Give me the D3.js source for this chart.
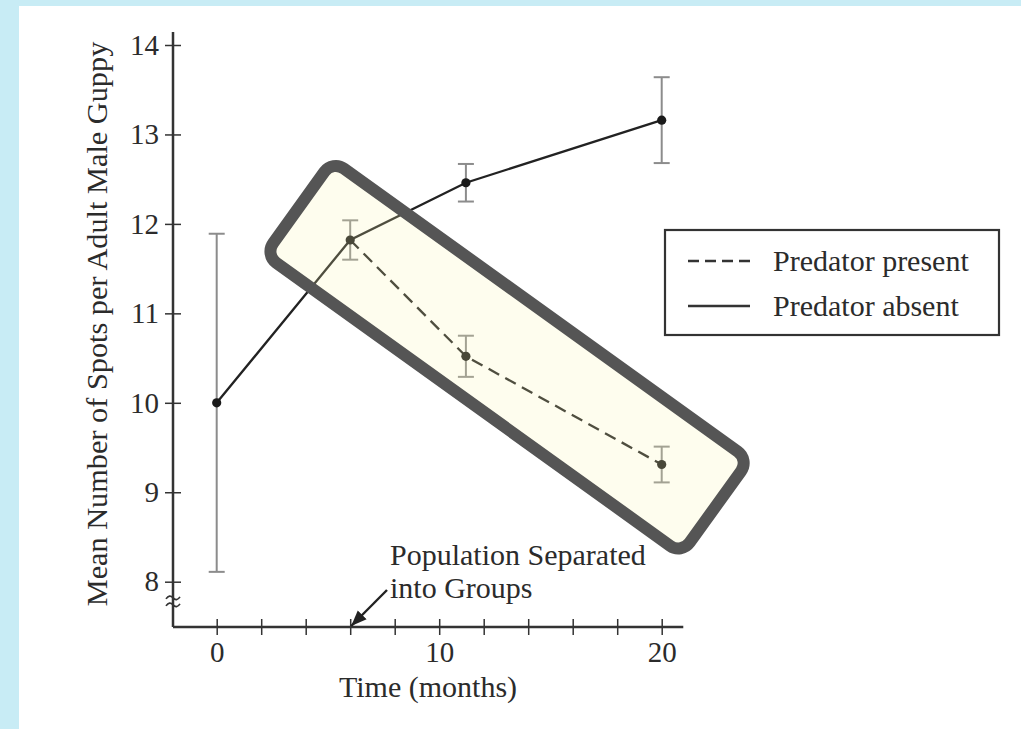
<html>
<head>
    <script src="https://d3js.org/d3.v7.min.js"></script>
    <style>
        body { margin: 0; }
        text { font-family: "Liberation Serif", "Times New Roman", serif; fill: #2b2b2b; }
    </style>
</head>
<body>
<div id="chart"></div>
<script>
    // values
    const absentMonths = [0, 6, 11.2, 20];
    const absentSpots = [10.0, 11.82, 12.46, 13.16];
    const absentErr = [1.89, 0.22, 0.21, 0.48];

    const presentMonths = [6, 11.2, 20];
    const presentSpots = [11.82, 10.52, 9.31];
    const presentErr = [0.22, 0.23, 0.2];

    const xTicks = [0, 2, 4, 6, 8, 10, 12, 14, 16, 18, 20];
    const xLabels = [0, 10, 20];
    const yTicks = [8, 9, 10, 11, 12, 13, 14];
    const legendNames = ["Predator present", "Predator absent"];
    const separatedAt = 6;

    const absent = absentMonths.map((m, i) => ({ m: m, v: absentSpots[i], e: absentErr[i] }));
    const present = presentMonths.map((m, i) => ({ m: m, v: presentSpots[i], e: presentErr[i] }));

    const svg = d3.select("#chart")
        .append("svg")
        .attr("width", 1021)
        .attr("height", 729);

    // page background
    svg.append("rect").attr("width", 1021).attr("height", 729).attr("fill", "#c8ecf5");
    svg.append("rect").attr("x", 19).attr("y", 6).attr("width", 1002).attr("height", 723).attr("fill", "#ffffff");

    const x = d3.scaleLinear().domain([0, 20]).range([216.7, 661.7]);
    const y = d3.scaleLinear().domain([8, 14]).range([581.7, 45]);
    const axisX = 173, axisY = 627;

    // x axis
    const bottomAxis = d3.axisBottom(x)
        .tickValues(xTicks)
        .tickSize(8)
        .tickPadding(6)
        .tickFormat(d => xLabels.includes(d) ? d : "");
    const gx = svg.append("g")
        .attr("class", "x axis")
        .attr("transform", "translate(0," + axisY + ")")
        .call(bottomAxis);
    gx.select(".domain").remove();
    gx.selectAll(".tick line").attr("y1", -8).attr("y2", 8).attr("stroke", "#333").attr("stroke-width", 1.5);
    gx.selectAll(".tick text").style("font-size", "29px").attr("fill", "#2b2b2b");
    svg.append("line")
        .attr("x1", axisX).attr("x2", x(20.97))
        .attr("y1", axisY).attr("y2", axisY)
        .attr("stroke", "#333").attr("stroke-width", 2.5);

    // y axis
    const leftAxis = d3.axisLeft(y)
        .tickValues(yTicks)
        .tickSize(8)
        .tickPadding(6)
        .tickFormat(d3.format("d"));
    const gy = svg.append("g")
        .attr("class", "y axis")
        .attr("transform", "translate(" + axisX + ",0)")
        .call(leftAxis);
    gy.select(".domain").remove();
    gy.selectAll(".tick line").attr("x1", -8).attr("x2", 8).attr("stroke", "#333").attr("stroke-width", 1.5);
    gy.selectAll(".tick text").style("font-size", "29px").attr("fill", "#2b2b2b");
    svg.append("line")
        .attr("x1", axisX).attr("x2", axisX)
        .attr("y1", y(14.145)).attr("y2", axisY)
        .attr("stroke", "#333").attr("stroke-width", 2.5);

    // axis break mark
    const brk = svg.append("g").attr("transform", "translate(" + axisX + "," + y(7.78) + ")");
    [-3.5, 3.5].forEach(dy => {
        brk.append("path")
            .attr("d", "M-7," + (dy + 1) + " q3.5,-5 7,-1 t7,-1")
            .attr("fill", "none").attr("stroke", "#333").attr("stroke-width", 1.7);
    });

    // axis titles
    svg.append("text")
        .attr("x", x(9.5)).attr("y", 697)
        .attr("text-anchor", "middle")
        .attr("font-size", 30)
        .text("Time (months)");
    svg.append("text")
        .attr("transform", "translate(107,324) rotate(-90)")
        .attr("text-anchor", "middle")
        .attr("font-size", 30.3)
        .text("Mean Number of Spots per Adult Male Guppy");

    // error bars
    function errorBars(data) {
        const g = svg.append("g");
        data.forEach(d => {
            g.append("line")
                .attr("x1", x(d.m)).attr("x2", x(d.m))
                .attr("y1", y(d.v - d.e)).attr("y2", y(d.v + d.e))
                .attr("stroke", "#8c8c8c").attr("stroke-width", 2);
            [d.v - d.e, d.v + d.e].forEach(v => {
                g.append("line")
                    .attr("x1", x(d.m) - 8).attr("x2", x(d.m) + 8)
                    .attr("y1", y(v)).attr("y2", y(v))
                    .attr("stroke", "#8c8c8c").attr("stroke-width", 2);
            });
        });
    }
    errorBars(absent);
    errorBars(present.slice(1));

    const line = d3.line().x(d => x(d.m)).y(d => y(d.v));

    svg.append("path")
        .datum(absent)
        .attr("d", line)
        .attr("fill", "none")
        .attr("stroke", "#222")
        .attr("stroke-width", 2.3);

    svg.append("path")
        .datum(present)
        .attr("d", line)
        .attr("fill", "none")
        .attr("stroke", "#222")
        .attr("stroke-width", 2.3)
        .attr("stroke-dasharray", "12,7");

    svg.selectAll("circle.pt")
        .data(absent.concat(present.slice(1)))
        .join("circle")
        .attr("class", "pt")
        .attr("cx", d => x(d.m))
        .attr("cy", d => y(d.v))
        .attr("r", 4.6)
        .attr("fill", "#1a1a1a");

    // highlight box over the predator-present series
    svg.append("rect")
        .attr("x", -256.5).attr("y", -58)
        .attr("width", 513).attr("height", 116)
        .attr("rx", 14).attr("ry", 14)
        .attr("transform", "translate(" + x(13.05) + "," + y(10.51) + ") rotate(35.7)")
        .attr("fill", "rgb(250,246,174)")
        .attr("fill-opacity", 0.21)
        .attr("stroke", "#555")
        .attr("stroke-width", 12);

    // annotation
    const note = svg.append("text").attr("font-size", 30);
    note.append("tspan").attr("x", 390).attr("y", 565).text("Population Separated");
    note.append("tspan").attr("x", 390).attr("y", 598).text("into Groups");

    svg.append("defs").append("marker")
        .attr("id", "arrow")
        .attr("viewBox", "0 0 10 10")
        .attr("refX", 10).attr("refY", 5)
        .attr("markerWidth", 6.5).attr("markerHeight", 6.5)
        .attr("markerUnits", "strokeWidth")
        .attr("orient", "auto")
        .append("path")
        .attr("d", "M0,1 L10,5 L0,9 Z")
        .attr("fill", "#222");
    svg.append("line")
        .attr("x1", 387).attr("y1", 590)
        .attr("x2", x(separatedAt) + 1).attr("y2", axisY - 1)
        .attr("stroke", "#222").attr("stroke-width", 2.4)
        .attr("marker-end", "url(#arrow)");

    // legend
    const legend = svg.append("g").attr("transform", "translate(665,230)");
    legend.append("rect")
        .attr("width", 334).attr("height", 105)
        .attr("fill", "#fff")
        .attr("stroke", "#333").attr("stroke-width", 2.2);
    legendNames.forEach((name, i) => {
        const ly = 31 + i * 45;
        legend.append("line")
            .attr("x1", 23).attr("x2", 85)
            .attr("y1", ly).attr("y2", ly)
            .attr("stroke", "#333").attr("stroke-width", 2.3)
            .attr("stroke-dasharray", i === 0 ? "11,6" : null);
        legend.append("text")
            .attr("x", 108).attr("y", ly + 10)
            .attr("font-size", 30)
            .text(name);
    });
</script>
</body>
</html>
